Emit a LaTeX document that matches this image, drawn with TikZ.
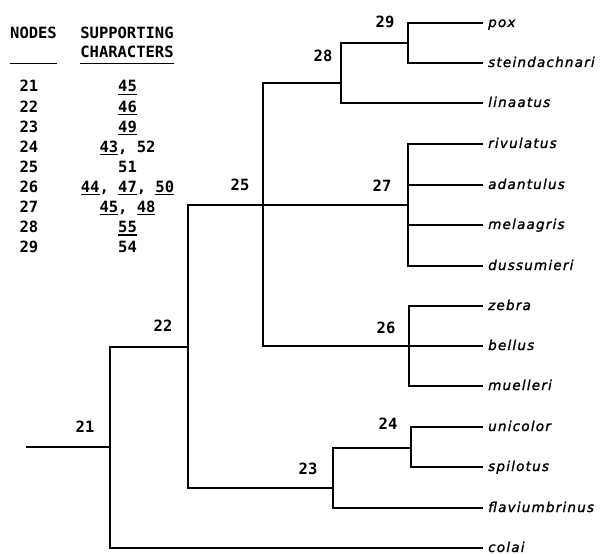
\documentclass[tikz,border=0pt]{standalone}
\usepackage{fontspec}
\setmainfont{DejaVu Sans}
\newfontfamily\numfont{DejaVu Sans Mono}
\newfontfamily\tipfont{DejaVu Sans}[ItalicFont={DejaVu Sans Oblique},LetterSpace=9,FakeBold=1.5]
\usetikzlibrary{positioning}
% underlined character number
\newcommand\uln[1]{\setbox0\hbox{#1}\rlap{\rule[-2.9bp]{\wd0}{1.3bp}}\box0}
\tikzset{
  branch/.style = {line width=1.1bp, line cap=rect},
  rulebar/.style = {line width=1.2bp},
  tabtxt/.style = {anchor=base, inner sep=0pt, font=\numfont\bfseries\fontsize{15.5bp}{18bp}\selectfont},
  nodenum/.style = {inner sep=0pt, font=\numfont\bfseries\fontsize{15.5bp}{18bp}\selectfont},
  tiplab/.style = {anchor=base west, inner sep=0pt, xshift=6bp, yshift=-4bp, font=\tipfont\itshape\fontsize{13.5bp}{16bp}\selectfont},
}

\begin{document}
\begin{tikzpicture}[x=1bp, y=-1bp]
  \useasboundingbox (0,0) rectangle (606,554);

  % table of supporting characters
  \node[tabtxt] (hnodes) at (33.5,39) {NODES};
  \node[tabtxt] (hsupp) at (127,39) {SUPPORTING};
  \node[tabtxt] (hchar) at (127,58) {CHARACTERS};
  \draw[rulebar] ([yshift=-24.5bp]hnodes.base west) -- ([yshift=-24.5bp]hnodes.base east);
  \draw[rulebar] ([yshift=-5.5bp]hchar.base west) -- ([yshift=-5.5bp]hchar.base east);
  \foreach \n/\c [count=\i from 0] in {21/{\uln{45}}, 22/{\uln{46}}, 23/{\uln{49}},
      24/{\uln{43}, 52}, 25/{51}, 26/{\uln{44}, \uln{47}, \uln{50}},
      27/{\uln{45}, \uln{48}}, 28/{\uln{55}}, 29/{54}} {
    \node[tabtxt] (num\n) at (29,92+20.1*\i) {\n};
    \node[tabtxt] (chr\n) at (127.5,92+20.1*\i) {\c};
  }

  % internal nodes of the tree
  \coordinate (root) at (27,447);
  \coordinate (n21) at (110,447);
  \coordinate (n22) at (188,347);
  \coordinate (n25) at (263,205);
  \coordinate (n28) at (341,83);
  \coordinate (n29) at (408,43);
  \coordinate (n27) at (408,205);
  \coordinate (n26) at (409,346);
  \coordinate (n23) at (333,488);
  \coordinate (n24) at (411,448);

  % terminal taxa
  \foreach \t/\y in {pox/23, steindachnari/63, linaatus/103, rivulatus/144,
      adantulus/185, melaagris/225, dussumieri/266, zebra/306, bellus/346,
      muelleri/386, unicolor/427, spilotus/467, flaviumbrinus/508, colai/548} {
    \coordinate (e-\t) at (482,\y);
    \node[tiplab] (l-\t) at (e-\t) {\t};
  }

  % branches
  \draw[branch] (root) -- (n21);
  \draw[branch] (n21) |- (n22);
  \draw[branch] (n21) |- (e-colai);
  \draw[branch] (n22) |- (n25);
  \draw[branch] (n22) |- (n23);
  \draw[branch] (n25) |- (n28);
  \draw[branch] (n25) |- (n27);
  \draw[branch] (n25) |- (n26);
  \draw[branch] (n28) |- (n29);
  \draw[branch] (n28) |- (e-linaatus);
  \foreach \t in {pox, steindachnari} \draw[branch] (n29) |- (e-\t);
  \foreach \t in {rivulatus, adantulus, melaagris, dussumieri} \draw[branch] (n27) |- (e-\t);
  \foreach \t in {zebra, bellus, muelleri} \draw[branch] (n26) |- (e-\t);
  \draw[branch] (n23) |- (n24);
  \draw[branch] (n23) |- (e-flaviumbrinus);
  \foreach \t in {unicolor, spilotus} \draw[branch] (n24) |- (e-\t);

  % node numbers
  \node[nodenum] (lab21) at (85,427) {21};
  \node[nodenum] (lab22) at (163,326) {22};
  \node[nodenum] (lab23) at (308,469) {23};
  \node[nodenum] (lab24) at (388,424) {24};
  \node[nodenum] (lab25) at (240,185) {25};
  \node[nodenum] (lab26) at (386,328) {26};
  \node[nodenum] (lab27) at (382,186) {27};
  \node[nodenum] (lab28) at (323,56) {28};
  \node[nodenum] (lab29) at (385,22) {29};
\end{tikzpicture}
\end{document}
